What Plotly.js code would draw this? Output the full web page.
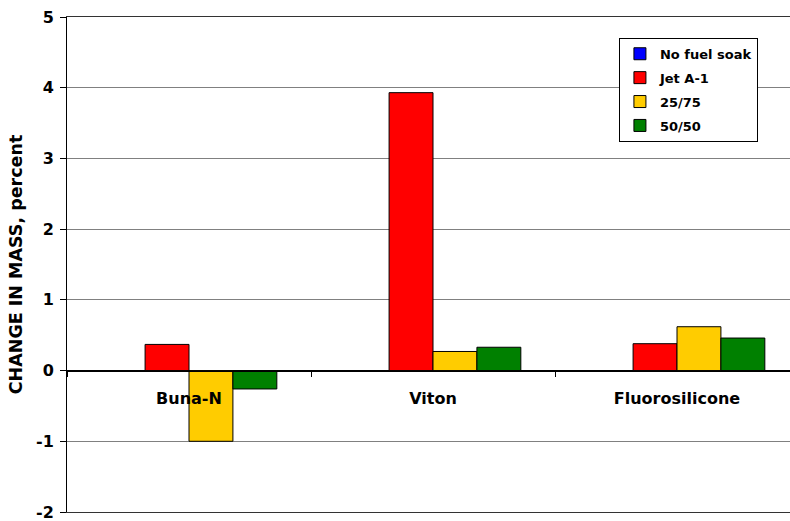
<!DOCTYPE html>
<html>
<head>
<meta charset="utf-8">
<script src="https://cdn.plot.ly/plotly-3.0.1.min.js"></script>
<style>html,body{margin:0;padding:0;background:#fff;overflow:hidden;width:790px;height:521px;}#chart{width:800px;height:521px;}</style>
</head>
<body>
<div id="chart"></div>
<script>
const categories = ["Buna-N", "Viton", "Fluorosilicone"];
const seriesNames = ["No fuel soak", "Jet A-1", "25/75", "50/50"];
const noFuelSoak = [0, 0, 0];
const jetA1 = [0.37, 3.93, 0.38];
const blend2575 = [-1.0, 0.27, 0.62];
const blend5050 = [-0.26, 0.33, 0.46];
const seriesValues = [noFuelSoak, jetA1, blend2575, blend5050];
const colors = ["#0000FF", "#FF0000", "#FFCC00", "#008000"];
const yTickValues = [-2, -1, 0, 1, 2, 3, 4, 5];
const yTickLabels = ["-2", "-1", "0", "1", "2", "3", "4", "5"];

const fam = "DejaVu Sans, Arial, sans-serif";
const f = (size) => ({family: fam, size: size, color: "#000", weight: "bold"});

const traces = seriesNames.map((n, i) => ({
  type: "bar",
  name: n,
  legendgroup: "g" + i,
  x: categories,
  y: seriesValues[i],
  marker: {color: colors[i], line: {color: "#000", width: 1}},
  hoverinfo: "none"
}));
// empty helper trace so the frame axis (top/bottom border) is drawn
traces.push({type: "scatter", x: [null], y: [null], xaxis: "x2", yaxis: "y",
  showlegend: false, hoverinfo: "none", mode: "markers"});

const layout = {
  width: 800, height: 521,
  margin: {l: 67, r: 1, t: 17, b: 9},
  paper_bgcolor: "#fff", plot_bgcolor: "#fff",
  barmode: "group", bargap: 0.28, bargroupgap: 0,
  showlegend: true,
  legend: {
    x: 0.754, y: 0.958, xanchor: "left", yanchor: "top",
    bgcolor: "#fff", bordercolor: "#000", borderwidth: 1,
    font: f(13),
    tracegroupgap: 4, itemwidth: 30
  },
  xaxis: {
    type: "category",
    anchor: "free", position: 2/7,
    showline: true, linecolor: "#000", linewidth: 1,
    ticks: "outside", tickson: "boundaries", ticklen: 5, tickcolor: "#000",
    ticklabelstandoff: 13,
    showgrid: false, zeroline: false,
    tickfont: f(16)
  },
  xaxis2: {
    overlaying: "x", anchor: "y", range: [0, 1],
    showline: true, mirror: true, linecolor: "#333", linewidth: 1,
    showticklabels: false, ticks: "", showgrid: false, zeroline: false
  },
  yaxis: {
    range: [-2, 5], tickvals: yTickValues, ticktext: yTickLabels,
    showline: true, linecolor: "#000", linewidth: 1,
    ticks: "outside", ticklen: 6, tickcolor: "#000",
    ticklabelstandoff: 3, ticklabeloverflow: "allow",
    showgrid: true, gridcolor: "#808080", gridwidth: 1,
    zeroline: true, zerolinecolor: "#000", zerolinewidth: 1,
    tickfont: f(16),
    title: {text: "CHANGE IN MASS, percent", font: f(17.5), standoff: 8}
  }
};

Plotly.newPlot("chart", traces, layout, {displayModeBar: false, staticPlot: true});
</script>
</body>
</html>
